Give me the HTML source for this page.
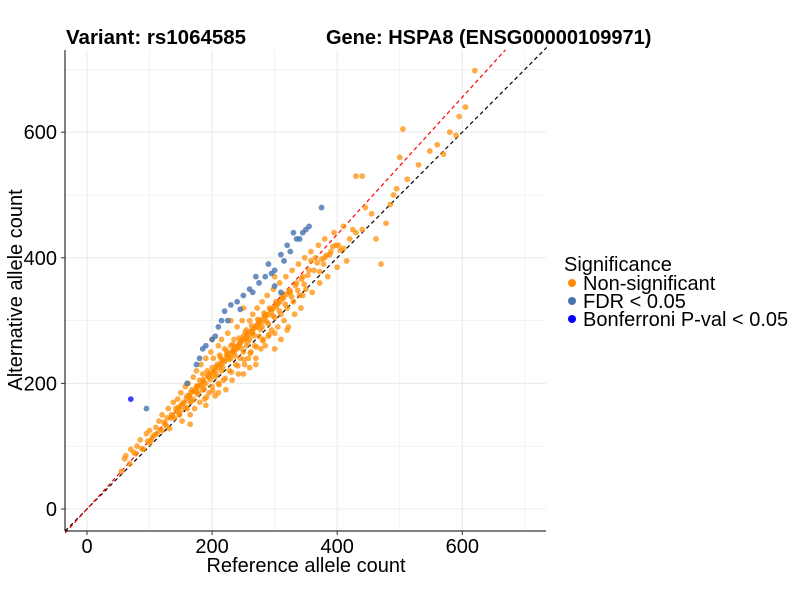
<!DOCTYPE html>
<html><head><meta charset="utf-8"><style>
body{margin:0;background:#fff;font-family:"Liberation Sans",sans-serif}
svg text{font-family:"Liberation Sans",sans-serif}
</style></head><body>
<svg id="chart" width="800" height="600" xmlns="http://www.w3.org/2000/svg">
<rect width="800" height="600" fill="#fff"/>
<g id="grid"></g>
<g id="lines"></g>
<g id="points"></g>
<g id="axes"></g>
<text x="66" y="44" font-size="20.5" font-weight="bold">Variant: rs1064585</text>
<text x="326" y="44" font-size="20" font-weight="bold">Gene: HSPA8 (ENSG00000109971)</text>
<text x="306" y="572" font-size="20" text-anchor="middle">Reference allele count</text>
<text transform="translate(22,290) rotate(-90)" font-size="20" text-anchor="middle">Alternative allele count</text>
<g>
<text x="564" y="271" font-size="20">Significance</text>
<g><circle cx="572" cy="283" r="4" fill="#ff8c00"/><text x="583" y="290" font-size="20">Non-significant</text></g>
<g><circle cx="572" cy="301" r="4" fill="#4572b0"/><text x="583" y="308" font-size="20">FDR &lt; 0.05</text></g>
<g><circle cx="572" cy="319" r="4" fill="#0000ff"/><text x="583" y="326" font-size="20">Bonferroni P-val &lt; 0.05</text></g>
</g>
</svg>
<script>
const xTicks=[0,200,400,600];
const yTicks=[0,200,400,600];
const nonsigRef=[55,60,62,70,75,80,85,90,95,100,100,105,110,112,115,120,120,125,128,130,132,135,138,140,142,145,148,150,150,152,155,157,160,160,162,165,165,168,170,170,172,175,175,178,180,180,182,185,185,188,190,190,192,195,195,198,200,200,202,205,205,208,210,210,212,215,215,218,220,220,222,225,225,228,230,230,232,235,235,238,240,240,242,245,245,248,250,250,252,255,255,258,260,260,262,265,265,268,270,270,272,275,275,278,280,280,282,285,285,288,290,290,292,295,298,300,300,302,305,308,310,310,312,315,318,320,322,325,328,330,332,335,338,340,342,345,348,350,355,358,360,365,370,372,378,380,385,390,395,400,402,410,415,420,430,440,445,470,485,490,495,500,505,430,440,560,570,590,595,620,410,380,300,320,250,270,190,210,165,260,345,300,250,230,200,
 68,78,88,97,103,108,117,123,127,134,137,143,147,153,158,163,167,173,177,183,187,193,197,203,207,213,217,223,227,233,237,243,247,253,257,263,267,273,277,283,287,293,297,303,307,313,317,323,327,333,337,343,347,353,363,368,375,383,393,398,
 146,151,159,164,171,176,181,186,194,199,204,209,214,219,224,229,234,239,244,249,254,259,264,269,274,279,284,289,294,299,304,309,314,319,324,216,226,236,246,256,266,276,286,296,306,186,196,206,176,166,
 231,241,251,261,271,281,291,211,221,201,191,243,253,263,273,283,233,223,213,358,372,388,405,425,455,462,478,512,530,548,580,605];
const nonsigAlt=[60,80,85,95,90,100,110,95,120,105,125,115,130,120,140,125,150,135,145,160,128,150,170,145,160,175,150,165,185,140,170,195,160,180,200,170,150,190,210,175,160,195,220,185,170,205,230,190,215,175,200,240,220,185,210,250,195,225,240,210,180,230,260,200,245,220,270,205,235,255,190,245,280,220,260,240,205,270,250,230,290,255,215,265,240,300,250,275,230,285,260,240,300,270,250,310,280,260,290,240,320,275,300,255,330,290,270,310,260,340,295,275,320,285,350,305,280,330,290,360,310,270,340,300,370,320,290,345,380,330,310,360,390,340,320,370,400,350,380,410,345,400,420,360,390,430,370,410,440,385,420,450,395,430,440,445,480,390,485,500,510,560,605,530,530,580,565,595,625,698,415,400,255,285,215,230,165,185,135,225,340,370,320,300,270,
 72,88,96,108,110,118,126,138,132,145,148,156,152,168,162,178,172,188,183,198,192,212,206,220,214,232,226,246,238,252,244,262,256,272,266,282,276,294,286,306,298,318,308,324,316,336,326,346,338,356,348,366,358,372,380,392,398,404,418,420,
 162,158,176,181,187,193,197,203,211,215,219,225,229,236,241,246,251,257,263,268,272,277,282,289,294,298,303,309,314,321,326,331,336,342,348,238,248,258,268,278,288,298,308,318,328,206,216,226,196,186,
 218,228,238,248,258,268,278,198,208,188,178,272,282,292,302,312,262,252,242,395,378,405,412,445,470,430,455,525,548,570,600,640];
const fdrRef=[95,160,175,185,190,200,210,215,220,230,240,250,260,270,275,285,290,300,310,320,325,330,335,345,350,355,375,300,310,180,205,225,245,265,295,315,340];
const fdrAlt=[160,200,230,255,260,270,290,300,315,325,330,340,350,370,360,370,390,380,405,420,410,440,430,440,445,450,480,355,345,240,275,300,318,345,375,395,430];
const bonfRef=[70];
const bonfAlt=[175];
const NS="http://www.w3.org/2000/svg";
const L=65,R=546,T=50,B=531;
const xs=v=>87+v*0.6255;
const ys=v=>509-v*0.628;
function mk(tag,attrs,parent){const e=document.createElementNS(NS,tag);for(const k in attrs)e.setAttribute(k,attrs[k]);parent.appendChild(e);return e;}
const grid=document.getElementById('grid');
for(let v=0;v<=700;v+=100){
 const x=xs(v);const g1=mk('line',{x1:x,x2:x,y1:T,y2:B,stroke:'#ebebeb','stroke-width':v%200?0.6:1.1},grid);
 
 
 const y=ys(v);const g2=mk('line',{x1:L,x2:R,y1:y,y2:y,stroke:'#ebebeb','stroke-width':v%200?0.6:1.1},grid);
 
 
}
const lines=document.getElementById('lines');
const l1=mk('line',{x1:xs(-35),y1:ys(-35),x2:xs(735),y2:ys(735),stroke:'#000','stroke-width':1.2,'stroke-dasharray':'4,3'},lines);


const slope=1.093;
const l2=mk('line',{x1:xs(-35),y1:ys(-35*slope),x2:xs(731/slope),y2:ys(731),stroke:'#ff0000','stroke-width':1.2,'stroke-dasharray':'4,3'},lines);


const pts=document.getElementById('points');
function drawSeries(xsArr,ysArr,color,op,name){
 for(let i=0;i<xsArr.length;i++){
  const c=mk('circle',{cx:xs(xsArr[i]),cy:ys(ysArr[i]),r:2.9,fill:color,'fill-opacity':op},pts);
  
  
 }
}
drawSeries(nonsigRef,nonsigAlt,'#ff8c00',0.72,'point-nonsignificant');
drawSeries(fdrRef,fdrAlt,'#4572b0',0.8,'point-fdr');
drawSeries(bonfRef,bonfAlt,'#0000ff',0.75,'point-bonferroni');
const axes=document.getElementById('axes');
const xa=mk('line',{x1:L,x2:R,y1:B,y2:B,stroke:'#000','stroke-width':1},axes);


const ya=mk('line',{x1:L,x2:L,y1:T,y2:B,stroke:'#000','stroke-width':1},axes);


xTicks.forEach(v=>{
 const x=xs(v);mk('line',{x1:x,x2:x,y1:B,y2:B+4,stroke:'#333'},axes);
 const t=mk('text',{x:x,y:B+22,'font-size':20,'text-anchor':'middle'},axes);t.textContent=v;
 
 
});
yTicks.forEach(v=>{
 const y=ys(v);mk('line',{x1:L-4,x2:L,y1:y,y2:y,stroke:'#333'},axes);
 const t=mk('text',{x:L-8,y:y+7,'font-size':20,'text-anchor':'end'},axes);t.textContent=v;
 
 
});
</script>
</body></html>
